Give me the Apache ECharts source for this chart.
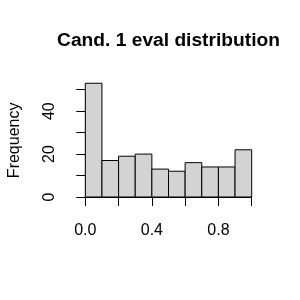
<!DOCTYPE html>
<html><head><meta charset="utf-8">
<script src="https://cdn.jsdelivr.net/npm/echarts@6/dist/echarts.min.js"></script>
<style>html,body{margin:0;padding:0;background:#fff}#c{width:300px;height:300px}</style>
</head><body><div id="c"></div>
<script>
var binStarts = [0.0, 0.1, 0.2, 0.3, 0.4, 0.5, 0.6, 0.7, 0.8, 0.9];
var binEnds   = [0.1, 0.2, 0.3, 0.4, 0.5, 0.6, 0.7, 0.8, 0.9, 1.0];
var counts    = [53, 17, 19, 20, 13, 12, 16, 14, 14, 22];
var xTickLabels = ['0.0', '0.4', '0.8'];
var yTickLabels = ['0', '20', '40'];

var data = binStarts.map(function (s, i) { return [s, binEnds[i], counts[i]]; });
var font = 'Liberation Sans, Arial, sans-serif';
var chart = echarts.init(document.getElementById('c'));
chart.setOption({
  animation: false,
  backgroundColor: '#fff',
  title: {
    text: 'Cand. 1 eval distribution',
    left: 168.5, top: 31, textAlign: 'center', padding: 0,
    textStyle: { fontFamily: font, fontWeight: 'bold', fontSize: 19.2, color: '#000' }
  },
  grid: { left: 85.3, right: 48.3, top: 89.7, bottom: 103, outerBoundsMode: 'none', containLabel: false },
  xAxis: {
    type: 'value', min: 0, max: 1, interval: 0.2, offset: 6,
    splitLine: { show: false },
    axisLine: { show: true, lineStyle: { color: '#000', width: 1 } },
    axisTick: { show: true, length: 9, lineStyle: { color: '#000', width: 1 } },
    axisLabel: {
      margin: 20, color: '#000', fontFamily: font, fontSize: 16,
      showMinLabel: true, showMaxLabel: true, hideOverlap: false,
      formatter: function (v) {
        var s = v.toFixed(1);
        return xTickLabels.indexOf(s) >= 0 ? s : '';
      }
    }
  },
  yAxis: {
    type: 'value', min: 0, max: 50, interval: 10, offset: 7,
    name: 'Frequency', nameLocation: 'middle', nameGap: 56, nameRotate: 90,
    nameTextStyle: { fontFamily: font, fontSize: 16, color: '#000', padding: [0, 0, 0, 6] },
    splitLine: { show: false },
    axisLine: { show: true, lineStyle: { color: '#000', width: 1 } },
    axisTick: { show: true, length: 9, lineStyle: { color: '#000', width: 1 } },
    axisLabel: {
      rotate: 90, margin: 21, color: '#000', fontFamily: font, fontSize: 16,
      showMinLabel: true, showMaxLabel: true, hideOverlap: false,
      formatter: function (v) {
        var s = String(v);
        return yTickLabels.indexOf(s) >= 0 ? s : '';
      }
    }
  },
  series: [{
    type: 'custom',
    clip: false,
    data: data,
    renderItem: function (params, api) {
      var p0 = api.coord([api.value(0), 0]);
      var p1 = api.coord([api.value(1), api.value(2)]);
      return {
        type: 'rect',
        shape: { x: p0[0], y: p1[1], width: p1[0] - p0[0], height: p0[1] - p1[1] },
        style: { fill: '#D3D3D3', stroke: '#000', lineWidth: 1 }
      };
    }
  }]
});
</script></body></html>
